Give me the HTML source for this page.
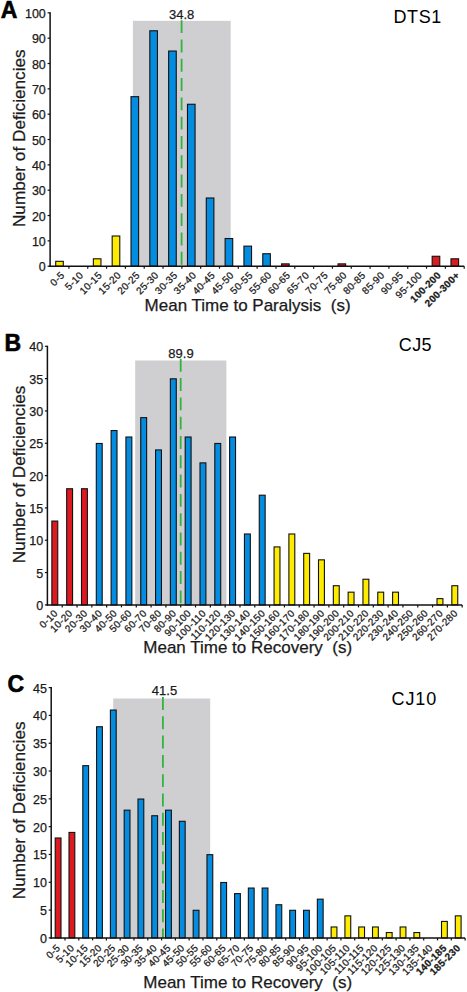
<!DOCTYPE html>
<html><head><meta charset="utf-8"><title>Histograms</title>
<style>
html,body{margin:0;padding:0;background:#fff;}
body{width:467px;height:992px;overflow:hidden;}
svg{display:block;}
text{font-family:"Liberation Sans", sans-serif;fill:#1a1a1a;stroke:#1a1a1a;stroke-width:0.25px;}
.yl{font-size:12.5px;text-anchor:end;}
.xl{font-size:10px;letter-spacing:0.25px;text-anchor:end;}
.xl.b{font-weight:bold;}
.mean{font-size:13px;text-anchor:middle;}
.ttl{font-size:18px;fill:#000;stroke:none;}
.let{font-size:23px;font-weight:bold;fill:#000;stroke:#000;stroke-width:0.6px;}
.yt{font-size:17.2px;text-anchor:middle;}
.xt{font-size:17px;}
</style></head>
<body><svg width="467" height="992" viewBox="0 0 467 992">
<rect width="467" height="992" fill="#fff"/>
<rect x="132.9" y="20.8" width="97.8" height="245.4" fill="#cfcfd1"/>
<line x1="181.6" y1="20.2" x2="181.6" y2="266.2" stroke="#30b43e" stroke-width="1.8" stroke-dasharray="12.9 6.4"/>
<rect x="55.71" y="261.33" width="7.6" height="4.87" fill="#fdec00" stroke="#111" stroke-width="1.1"/>
<rect x="93.36" y="258.8" width="7.6" height="7.4" fill="#fdec00" stroke="#111" stroke-width="1.1"/>
<rect x="112.18" y="236" width="7.6" height="30.2" fill="#fdec00" stroke="#111" stroke-width="1.1"/>
<rect x="131" y="96.66" width="7.6" height="169.54" fill="#048de0" stroke="#111" stroke-width="1.1"/>
<rect x="149.83" y="30.78" width="7.6" height="235.42" fill="#048de0" stroke="#111" stroke-width="1.1"/>
<rect x="168.65" y="51.05" width="7.6" height="215.15" fill="#048de0" stroke="#111" stroke-width="1.1"/>
<rect x="187.47" y="104.26" width="7.6" height="161.94" fill="#048de0" stroke="#111" stroke-width="1.1"/>
<rect x="206.29" y="198" width="7.6" height="68.2" fill="#048de0" stroke="#111" stroke-width="1.1"/>
<rect x="225.12" y="238.53" width="7.6" height="27.67" fill="#048de0" stroke="#111" stroke-width="1.1"/>
<rect x="243.94" y="246.13" width="7.6" height="20.07" fill="#048de0" stroke="#111" stroke-width="1.1"/>
<rect x="262.76" y="253.73" width="7.6" height="12.47" fill="#048de0" stroke="#111" stroke-width="1.1"/>
<rect x="281.58" y="263.87" width="7.6" height="2.33" fill="#dc1a22" stroke="#111" stroke-width="1.1"/>
<rect x="338.05" y="263.87" width="7.6" height="2.33" fill="#dc1a22" stroke="#111" stroke-width="1.1"/>
<rect x="432.17" y="256.27" width="7.6" height="9.93" fill="#dc1a22" stroke="#111" stroke-width="1.1"/>
<rect x="450.99" y="258.8" width="7.6" height="7.4" fill="#dc1a22" stroke="#111" stroke-width="1.1"/>
<line x1="50.1" y1="12.35" x2="50.1" y2="266.95" stroke="#111" stroke-width="1.5"/>
<line x1="49.35" y1="266.2" x2="464.2" y2="266.2" stroke="#111" stroke-width="1.5"/>
<line x1="47.6" y1="266.2" x2="50.1" y2="266.2" stroke="#111" stroke-width="1.2"/>
<text x="45.8" y="271.2" class="yl">0</text>
<line x1="47.6" y1="240.86" x2="50.1" y2="240.86" stroke="#111" stroke-width="1.2"/>
<text x="45.8" y="245.86" class="yl">10</text>
<line x1="47.6" y1="215.53" x2="50.1" y2="215.53" stroke="#111" stroke-width="1.2"/>
<text x="45.8" y="220.53" class="yl">20</text>
<line x1="47.6" y1="190.19" x2="50.1" y2="190.19" stroke="#111" stroke-width="1.2"/>
<text x="45.8" y="195.19" class="yl">30</text>
<line x1="47.6" y1="164.86" x2="50.1" y2="164.86" stroke="#111" stroke-width="1.2"/>
<text x="45.8" y="169.86" class="yl">40</text>
<line x1="47.6" y1="139.52" x2="50.1" y2="139.52" stroke="#111" stroke-width="1.2"/>
<text x="45.8" y="144.52" class="yl">50</text>
<line x1="47.6" y1="114.19" x2="50.1" y2="114.19" stroke="#111" stroke-width="1.2"/>
<text x="45.8" y="119.19" class="yl">60</text>
<line x1="47.6" y1="88.85" x2="50.1" y2="88.85" stroke="#111" stroke-width="1.2"/>
<text x="45.8" y="93.85" class="yl">70</text>
<line x1="47.6" y1="63.52" x2="50.1" y2="63.52" stroke="#111" stroke-width="1.2"/>
<text x="45.8" y="68.52" class="yl">80</text>
<line x1="47.6" y1="38.18" x2="50.1" y2="38.18" stroke="#111" stroke-width="1.2"/>
<text x="45.8" y="43.18" class="yl">90</text>
<line x1="47.6" y1="12.85" x2="50.1" y2="12.85" stroke="#111" stroke-width="1.2"/>
<text x="45.8" y="17.85" class="yl">100</text>
<line x1="68.92" y1="266.2" x2="68.92" y2="268.7" stroke="#111" stroke-width="1.2"/>
<line x1="87.75" y1="266.2" x2="87.75" y2="268.7" stroke="#111" stroke-width="1.2"/>
<line x1="106.57" y1="266.2" x2="106.57" y2="268.7" stroke="#111" stroke-width="1.2"/>
<line x1="125.39" y1="266.2" x2="125.39" y2="268.7" stroke="#111" stroke-width="1.2"/>
<line x1="144.21" y1="266.2" x2="144.21" y2="268.7" stroke="#111" stroke-width="1.2"/>
<line x1="163.04" y1="266.2" x2="163.04" y2="268.7" stroke="#111" stroke-width="1.2"/>
<line x1="181.86" y1="266.2" x2="181.86" y2="268.7" stroke="#111" stroke-width="1.2"/>
<line x1="200.68" y1="266.2" x2="200.68" y2="268.7" stroke="#111" stroke-width="1.2"/>
<line x1="219.5" y1="266.2" x2="219.5" y2="268.7" stroke="#111" stroke-width="1.2"/>
<line x1="238.33" y1="266.2" x2="238.33" y2="268.7" stroke="#111" stroke-width="1.2"/>
<line x1="257.15" y1="266.2" x2="257.15" y2="268.7" stroke="#111" stroke-width="1.2"/>
<line x1="275.97" y1="266.2" x2="275.97" y2="268.7" stroke="#111" stroke-width="1.2"/>
<line x1="294.8" y1="266.2" x2="294.8" y2="268.7" stroke="#111" stroke-width="1.2"/>
<line x1="313.62" y1="266.2" x2="313.62" y2="268.7" stroke="#111" stroke-width="1.2"/>
<line x1="332.44" y1="266.2" x2="332.44" y2="268.7" stroke="#111" stroke-width="1.2"/>
<line x1="351.26" y1="266.2" x2="351.26" y2="268.7" stroke="#111" stroke-width="1.2"/>
<line x1="370.09" y1="266.2" x2="370.09" y2="268.7" stroke="#111" stroke-width="1.2"/>
<line x1="388.91" y1="266.2" x2="388.91" y2="268.7" stroke="#111" stroke-width="1.2"/>
<line x1="407.73" y1="266.2" x2="407.73" y2="268.7" stroke="#111" stroke-width="1.2"/>
<line x1="426.55" y1="266.2" x2="426.55" y2="268.7" stroke="#111" stroke-width="1.2"/>
<line x1="445.38" y1="266.2" x2="445.38" y2="268.7" stroke="#111" stroke-width="1.2"/>
<line x1="464.2" y1="266.2" x2="464.2" y2="268.7" stroke="#111" stroke-width="1.2"/>
<text transform="translate(62.51,273.4) rotate(-45)" class="xl" dy="0.36em">0-5</text>
<text transform="translate(81.33,273.4) rotate(-45)" class="xl" dy="0.36em">5-10</text>
<text transform="translate(100.16,273.4) rotate(-45)" class="xl" dy="0.36em">10-15</text>
<text transform="translate(118.98,273.4) rotate(-45)" class="xl" dy="0.36em">15-20</text>
<text transform="translate(137.8,273.4) rotate(-45)" class="xl" dy="0.36em">20-25</text>
<text transform="translate(156.62,273.4) rotate(-45)" class="xl" dy="0.36em">25-30</text>
<text transform="translate(175.45,273.4) rotate(-45)" class="xl" dy="0.36em">30-35</text>
<text transform="translate(194.27,273.4) rotate(-45)" class="xl" dy="0.36em">35-40</text>
<text transform="translate(213.09,273.4) rotate(-45)" class="xl" dy="0.36em">40-45</text>
<text transform="translate(231.92,273.4) rotate(-45)" class="xl" dy="0.36em">45-50</text>
<text transform="translate(250.74,273.4) rotate(-45)" class="xl" dy="0.36em">50-55</text>
<text transform="translate(269.56,273.4) rotate(-45)" class="xl" dy="0.36em">55-60</text>
<text transform="translate(288.38,273.4) rotate(-45)" class="xl" dy="0.36em">60-65</text>
<text transform="translate(307.21,273.4) rotate(-45)" class="xl" dy="0.36em">65-70</text>
<text transform="translate(326.03,273.4) rotate(-45)" class="xl" dy="0.36em">70-75</text>
<text transform="translate(344.85,273.4) rotate(-45)" class="xl" dy="0.36em">75-80</text>
<text transform="translate(363.68,273.4) rotate(-45)" class="xl" dy="0.36em">80-85</text>
<text transform="translate(382.5,273.4) rotate(-45)" class="xl" dy="0.36em">85-90</text>
<text transform="translate(401.32,273.4) rotate(-45)" class="xl" dy="0.36em">90-95</text>
<text transform="translate(420.14,273.4) rotate(-45)" class="xl" dy="0.36em">95-100</text>
<text transform="translate(438.97,273.4) rotate(-45)" class="xl b" dy="0.36em">100-200</text>
<text transform="translate(457.79,273.4) rotate(-45)" class="xl b" dy="0.36em">200-300+</text>
<text x="181.6" y="19.2" class="mean">34.8</text>
<text x="393.5" y="23.1" class="ttl" letter-spacing="0.6">DTS1</text>
<text x="0.7" y="17.7" class="let">A</text>
<text transform="translate(25,138.2) rotate(-90)" class="yt">Number of Deficiencies</text>
<text x="144.6" y="311.1" class="xt">Mean Time to Paralysis  (s)</text>
<rect x="135.2" y="360.5" width="91.2" height="244.4" fill="#cfcfd1"/>
<line x1="180.7" y1="358.8" x2="180.7" y2="604.9" stroke="#30b43e" stroke-width="1.8" stroke-dasharray="12.9 6.4"/>
<rect x="51.86" y="521.06" width="5.9" height="83.84" fill="#dc1a22" stroke="#111" stroke-width="1.1"/>
<rect x="66.67" y="488.73" width="5.9" height="116.17" fill="#dc1a22" stroke="#111" stroke-width="1.1"/>
<rect x="81.49" y="488.73" width="5.9" height="116.17" fill="#dc1a22" stroke="#111" stroke-width="1.1"/>
<rect x="96.3" y="443.47" width="5.9" height="161.42" fill="#048de0" stroke="#111" stroke-width="1.1"/>
<rect x="111.11" y="430.55" width="5.9" height="174.35" fill="#048de0" stroke="#111" stroke-width="1.1"/>
<rect x="125.93" y="437.01" width="5.9" height="167.89" fill="#048de0" stroke="#111" stroke-width="1.1"/>
<rect x="140.74" y="417.62" width="5.9" height="187.28" fill="#048de0" stroke="#111" stroke-width="1.1"/>
<rect x="155.56" y="449.94" width="5.9" height="154.96" fill="#048de0" stroke="#111" stroke-width="1.1"/>
<rect x="170.37" y="378.82" width="5.9" height="226.07" fill="#048de0" stroke="#111" stroke-width="1.1"/>
<rect x="185.19" y="437.01" width="5.9" height="167.89" fill="#048de0" stroke="#111" stroke-width="1.1"/>
<rect x="200" y="462.87" width="5.9" height="142.03" fill="#048de0" stroke="#111" stroke-width="1.1"/>
<rect x="214.81" y="443.47" width="5.9" height="161.42" fill="#048de0" stroke="#111" stroke-width="1.1"/>
<rect x="229.63" y="437.01" width="5.9" height="167.89" fill="#048de0" stroke="#111" stroke-width="1.1"/>
<rect x="244.44" y="533.99" width="5.9" height="70.91" fill="#048de0" stroke="#111" stroke-width="1.1"/>
<rect x="259.26" y="495.19" width="5.9" height="109.7" fill="#048de0" stroke="#111" stroke-width="1.1"/>
<rect x="274.07" y="546.92" width="5.9" height="57.98" fill="#fdec00" stroke="#111" stroke-width="1.1"/>
<rect x="288.89" y="533.99" width="5.9" height="70.91" fill="#fdec00" stroke="#111" stroke-width="1.1"/>
<rect x="303.7" y="553.38" width="5.9" height="51.52" fill="#fdec00" stroke="#111" stroke-width="1.1"/>
<rect x="318.51" y="559.85" width="5.9" height="45.05" fill="#fdec00" stroke="#111" stroke-width="1.1"/>
<rect x="333.33" y="585.71" width="5.9" height="19.19" fill="#fdec00" stroke="#111" stroke-width="1.1"/>
<rect x="348.14" y="592.17" width="5.9" height="12.73" fill="#fdec00" stroke="#111" stroke-width="1.1"/>
<rect x="362.96" y="579.24" width="5.9" height="25.66" fill="#fdec00" stroke="#111" stroke-width="1.1"/>
<rect x="377.77" y="592.17" width="5.9" height="12.73" fill="#fdec00" stroke="#111" stroke-width="1.1"/>
<rect x="392.59" y="592.17" width="5.9" height="12.73" fill="#fdec00" stroke="#111" stroke-width="1.1"/>
<rect x="437.03" y="598.63" width="5.9" height="6.26" fill="#fdec00" stroke="#111" stroke-width="1.1"/>
<rect x="451.84" y="585.71" width="5.9" height="19.19" fill="#fdec00" stroke="#111" stroke-width="1.1"/>
<line x1="47.4" y1="345.8" x2="47.4" y2="605.65" stroke="#111" stroke-width="1.5"/>
<line x1="46.65" y1="604.9" x2="462.2" y2="604.9" stroke="#111" stroke-width="1.5"/>
<line x1="44.9" y1="604.9" x2="47.4" y2="604.9" stroke="#111" stroke-width="1.2"/>
<text x="43.1" y="609.9" class="yl">0</text>
<line x1="44.9" y1="572.57" x2="47.4" y2="572.57" stroke="#111" stroke-width="1.2"/>
<text x="43.1" y="577.57" class="yl">5</text>
<line x1="44.9" y1="540.25" x2="47.4" y2="540.25" stroke="#111" stroke-width="1.2"/>
<text x="43.1" y="545.25" class="yl">10</text>
<line x1="44.9" y1="507.93" x2="47.4" y2="507.93" stroke="#111" stroke-width="1.2"/>
<text x="43.1" y="512.92" class="yl">15</text>
<line x1="44.9" y1="475.6" x2="47.4" y2="475.6" stroke="#111" stroke-width="1.2"/>
<text x="43.1" y="480.6" class="yl">20</text>
<line x1="44.9" y1="443.27" x2="47.4" y2="443.27" stroke="#111" stroke-width="1.2"/>
<text x="43.1" y="448.27" class="yl">25</text>
<line x1="44.9" y1="410.95" x2="47.4" y2="410.95" stroke="#111" stroke-width="1.2"/>
<text x="43.1" y="415.95" class="yl">30</text>
<line x1="44.9" y1="378.62" x2="47.4" y2="378.62" stroke="#111" stroke-width="1.2"/>
<text x="43.1" y="383.62" class="yl">35</text>
<line x1="44.9" y1="346.3" x2="47.4" y2="346.3" stroke="#111" stroke-width="1.2"/>
<text x="43.1" y="351.3" class="yl">40</text>
<line x1="62.21" y1="604.9" x2="62.21" y2="607.4" stroke="#111" stroke-width="1.2"/>
<line x1="77.03" y1="604.9" x2="77.03" y2="607.4" stroke="#111" stroke-width="1.2"/>
<line x1="91.84" y1="604.9" x2="91.84" y2="607.4" stroke="#111" stroke-width="1.2"/>
<line x1="106.66" y1="604.9" x2="106.66" y2="607.4" stroke="#111" stroke-width="1.2"/>
<line x1="121.47" y1="604.9" x2="121.47" y2="607.4" stroke="#111" stroke-width="1.2"/>
<line x1="136.29" y1="604.9" x2="136.29" y2="607.4" stroke="#111" stroke-width="1.2"/>
<line x1="151.1" y1="604.9" x2="151.1" y2="607.4" stroke="#111" stroke-width="1.2"/>
<line x1="165.91" y1="604.9" x2="165.91" y2="607.4" stroke="#111" stroke-width="1.2"/>
<line x1="180.73" y1="604.9" x2="180.73" y2="607.4" stroke="#111" stroke-width="1.2"/>
<line x1="195.54" y1="604.9" x2="195.54" y2="607.4" stroke="#111" stroke-width="1.2"/>
<line x1="210.36" y1="604.9" x2="210.36" y2="607.4" stroke="#111" stroke-width="1.2"/>
<line x1="225.17" y1="604.9" x2="225.17" y2="607.4" stroke="#111" stroke-width="1.2"/>
<line x1="239.99" y1="604.9" x2="239.99" y2="607.4" stroke="#111" stroke-width="1.2"/>
<line x1="254.8" y1="604.9" x2="254.8" y2="607.4" stroke="#111" stroke-width="1.2"/>
<line x1="269.61" y1="604.9" x2="269.61" y2="607.4" stroke="#111" stroke-width="1.2"/>
<line x1="284.43" y1="604.9" x2="284.43" y2="607.4" stroke="#111" stroke-width="1.2"/>
<line x1="299.24" y1="604.9" x2="299.24" y2="607.4" stroke="#111" stroke-width="1.2"/>
<line x1="314.06" y1="604.9" x2="314.06" y2="607.4" stroke="#111" stroke-width="1.2"/>
<line x1="328.87" y1="604.9" x2="328.87" y2="607.4" stroke="#111" stroke-width="1.2"/>
<line x1="343.69" y1="604.9" x2="343.69" y2="607.4" stroke="#111" stroke-width="1.2"/>
<line x1="358.5" y1="604.9" x2="358.5" y2="607.4" stroke="#111" stroke-width="1.2"/>
<line x1="373.31" y1="604.9" x2="373.31" y2="607.4" stroke="#111" stroke-width="1.2"/>
<line x1="388.13" y1="604.9" x2="388.13" y2="607.4" stroke="#111" stroke-width="1.2"/>
<line x1="402.94" y1="604.9" x2="402.94" y2="607.4" stroke="#111" stroke-width="1.2"/>
<line x1="417.76" y1="604.9" x2="417.76" y2="607.4" stroke="#111" stroke-width="1.2"/>
<line x1="432.57" y1="604.9" x2="432.57" y2="607.4" stroke="#111" stroke-width="1.2"/>
<line x1="447.39" y1="604.9" x2="447.39" y2="607.4" stroke="#111" stroke-width="1.2"/>
<line x1="462.2" y1="604.9" x2="462.2" y2="607.4" stroke="#111" stroke-width="1.2"/>
<text transform="translate(55.81,611.4) rotate(-45)" class="xl" dy="0.36em">0-10</text>
<text transform="translate(70.62,611.4) rotate(-45)" class="xl" dy="0.36em">10-20</text>
<text transform="translate(85.44,611.4) rotate(-45)" class="xl" dy="0.36em">20-30</text>
<text transform="translate(100.25,611.4) rotate(-45)" class="xl" dy="0.36em">30-40</text>
<text transform="translate(115.06,611.4) rotate(-45)" class="xl" dy="0.36em">40-50</text>
<text transform="translate(129.88,611.4) rotate(-45)" class="xl" dy="0.36em">50-60</text>
<text transform="translate(144.69,611.4) rotate(-45)" class="xl" dy="0.36em">60-70</text>
<text transform="translate(159.51,611.4) rotate(-45)" class="xl" dy="0.36em">70-80</text>
<text transform="translate(174.32,611.4) rotate(-45)" class="xl" dy="0.36em">80-90</text>
<text transform="translate(189.14,611.4) rotate(-45)" class="xl" dy="0.36em">90-100</text>
<text transform="translate(203.95,611.4) rotate(-45)" class="xl" dy="0.36em">100-110</text>
<text transform="translate(218.76,611.4) rotate(-45)" class="xl" dy="0.36em">110-120</text>
<text transform="translate(233.58,611.4) rotate(-45)" class="xl" dy="0.36em">120-130</text>
<text transform="translate(248.39,611.4) rotate(-45)" class="xl" dy="0.36em">130-140</text>
<text transform="translate(263.21,611.4) rotate(-45)" class="xl" dy="0.36em">140-150</text>
<text transform="translate(278.02,611.4) rotate(-45)" class="xl" dy="0.36em">150-160</text>
<text transform="translate(292.84,611.4) rotate(-45)" class="xl" dy="0.36em">160-170</text>
<text transform="translate(307.65,611.4) rotate(-45)" class="xl" dy="0.36em">170-180</text>
<text transform="translate(322.46,611.4) rotate(-45)" class="xl" dy="0.36em">180-190</text>
<text transform="translate(337.28,611.4) rotate(-45)" class="xl" dy="0.36em">190-200</text>
<text transform="translate(352.09,611.4) rotate(-45)" class="xl" dy="0.36em">200-210</text>
<text transform="translate(366.91,611.4) rotate(-45)" class="xl" dy="0.36em">210-220</text>
<text transform="translate(381.72,611.4) rotate(-45)" class="xl" dy="0.36em">220-230</text>
<text transform="translate(396.54,611.4) rotate(-45)" class="xl" dy="0.36em">230-240</text>
<text transform="translate(411.35,611.4) rotate(-45)" class="xl" dy="0.36em">240-250</text>
<text transform="translate(426.16,611.4) rotate(-45)" class="xl" dy="0.36em">250-260</text>
<text transform="translate(440.98,611.4) rotate(-45)" class="xl" dy="0.36em">260-270</text>
<text transform="translate(455.79,611.4) rotate(-45)" class="xl" dy="0.36em">270-280</text>
<text x="181" y="358" class="mean">89.9</text>
<text x="398.8" y="351.4" class="ttl" letter-spacing="0.35">CJ5</text>
<text x="4.6" y="350.6" class="let">B</text>
<text transform="translate(25,474.4) rotate(-90)" class="yt">Number of Deficiencies</text>
<text x="143.3" y="653.1" class="xt">Mean Time to Recovery  (s)</text>
<rect x="113.2" y="698.5" width="97" height="239.4" fill="#cfcfd1"/>
<line x1="162.9" y1="697" x2="162.9" y2="937.9" stroke="#30b43e" stroke-width="1.8" stroke-dasharray="12.9 6.4"/>
<rect x="55.2" y="837.98" width="5.8" height="99.92" fill="#dc1a22" stroke="#111" stroke-width="1.1"/>
<rect x="69" y="832.42" width="5.8" height="105.48" fill="#dc1a22" stroke="#111" stroke-width="1.1"/>
<rect x="82.79" y="765.67" width="5.8" height="172.23" fill="#048de0" stroke="#111" stroke-width="1.1"/>
<rect x="96.59" y="726.74" width="5.8" height="211.16" fill="#048de0" stroke="#111" stroke-width="1.1"/>
<rect x="110.39" y="710.05" width="5.8" height="227.85" fill="#048de0" stroke="#111" stroke-width="1.1"/>
<rect x="124.18" y="810.17" width="5.8" height="127.73" fill="#048de0" stroke="#111" stroke-width="1.1"/>
<rect x="137.98" y="799.04" width="5.8" height="138.86" fill="#048de0" stroke="#111" stroke-width="1.1"/>
<rect x="151.78" y="815.73" width="5.8" height="122.17" fill="#048de0" stroke="#111" stroke-width="1.1"/>
<rect x="165.57" y="810.17" width="5.8" height="127.73" fill="#048de0" stroke="#111" stroke-width="1.1"/>
<rect x="179.37" y="821.29" width="5.8" height="116.61" fill="#048de0" stroke="#111" stroke-width="1.1"/>
<rect x="193.17" y="910.29" width="5.8" height="27.61" fill="#048de0" stroke="#111" stroke-width="1.1"/>
<rect x="206.96" y="854.67" width="5.8" height="83.23" fill="#048de0" stroke="#111" stroke-width="1.1"/>
<rect x="220.76" y="882.48" width="5.8" height="55.42" fill="#048de0" stroke="#111" stroke-width="1.1"/>
<rect x="234.56" y="893.6" width="5.8" height="44.3" fill="#048de0" stroke="#111" stroke-width="1.1"/>
<rect x="248.35" y="888.04" width="5.8" height="49.86" fill="#048de0" stroke="#111" stroke-width="1.1"/>
<rect x="262.15" y="888.04" width="5.8" height="49.86" fill="#048de0" stroke="#111" stroke-width="1.1"/>
<rect x="275.95" y="904.73" width="5.8" height="33.17" fill="#048de0" stroke="#111" stroke-width="1.1"/>
<rect x="289.74" y="910.29" width="5.8" height="27.61" fill="#048de0" stroke="#111" stroke-width="1.1"/>
<rect x="303.54" y="910.29" width="5.8" height="27.61" fill="#048de0" stroke="#111" stroke-width="1.1"/>
<rect x="317.34" y="899.16" width="5.8" height="38.74" fill="#048de0" stroke="#111" stroke-width="1.1"/>
<rect x="331.13" y="926.98" width="5.8" height="10.92" fill="#fdec00" stroke="#111" stroke-width="1.1"/>
<rect x="344.93" y="915.85" width="5.8" height="22.05" fill="#fdec00" stroke="#111" stroke-width="1.1"/>
<rect x="358.73" y="926.98" width="5.8" height="10.92" fill="#fdec00" stroke="#111" stroke-width="1.1"/>
<rect x="372.52" y="926.98" width="5.8" height="10.92" fill="#fdec00" stroke="#111" stroke-width="1.1"/>
<rect x="386.32" y="932.54" width="5.8" height="5.36" fill="#fdec00" stroke="#111" stroke-width="1.1"/>
<rect x="400.12" y="926.98" width="5.8" height="10.92" fill="#fdec00" stroke="#111" stroke-width="1.1"/>
<rect x="413.91" y="932.54" width="5.8" height="5.36" fill="#fdec00" stroke="#111" stroke-width="1.1"/>
<rect x="441.51" y="921.41" width="5.8" height="16.49" fill="#fdec00" stroke="#111" stroke-width="1.1"/>
<rect x="455.3" y="915.85" width="5.8" height="22.05" fill="#fdec00" stroke="#111" stroke-width="1.1"/>
<line x1="51.2" y1="687.1" x2="51.2" y2="938.65" stroke="#111" stroke-width="1.5"/>
<line x1="50.45" y1="937.9" x2="465.1" y2="937.9" stroke="#111" stroke-width="1.5"/>
<line x1="48.7" y1="937.9" x2="51.2" y2="937.9" stroke="#111" stroke-width="1.2"/>
<text x="46.9" y="942.9" class="yl">0</text>
<line x1="48.7" y1="910.09" x2="51.2" y2="910.09" stroke="#111" stroke-width="1.2"/>
<text x="46.9" y="915.09" class="yl">5</text>
<line x1="48.7" y1="882.28" x2="51.2" y2="882.28" stroke="#111" stroke-width="1.2"/>
<text x="46.9" y="887.28" class="yl">10</text>
<line x1="48.7" y1="854.47" x2="51.2" y2="854.47" stroke="#111" stroke-width="1.2"/>
<text x="46.9" y="859.47" class="yl">15</text>
<line x1="48.7" y1="826.66" x2="51.2" y2="826.66" stroke="#111" stroke-width="1.2"/>
<text x="46.9" y="831.66" class="yl">20</text>
<line x1="48.7" y1="798.84" x2="51.2" y2="798.84" stroke="#111" stroke-width="1.2"/>
<text x="46.9" y="803.84" class="yl">25</text>
<line x1="48.7" y1="771.03" x2="51.2" y2="771.03" stroke="#111" stroke-width="1.2"/>
<text x="46.9" y="776.03" class="yl">30</text>
<line x1="48.7" y1="743.22" x2="51.2" y2="743.22" stroke="#111" stroke-width="1.2"/>
<text x="46.9" y="748.22" class="yl">35</text>
<line x1="48.7" y1="715.41" x2="51.2" y2="715.41" stroke="#111" stroke-width="1.2"/>
<text x="46.9" y="720.41" class="yl">40</text>
<line x1="48.7" y1="687.6" x2="51.2" y2="687.6" stroke="#111" stroke-width="1.2"/>
<text x="46.9" y="692.6" class="yl">45</text>
<line x1="65" y1="937.9" x2="65" y2="940.4" stroke="#111" stroke-width="1.2"/>
<line x1="78.79" y1="937.9" x2="78.79" y2="940.4" stroke="#111" stroke-width="1.2"/>
<line x1="92.59" y1="937.9" x2="92.59" y2="940.4" stroke="#111" stroke-width="1.2"/>
<line x1="106.39" y1="937.9" x2="106.39" y2="940.4" stroke="#111" stroke-width="1.2"/>
<line x1="120.18" y1="937.9" x2="120.18" y2="940.4" stroke="#111" stroke-width="1.2"/>
<line x1="133.98" y1="937.9" x2="133.98" y2="940.4" stroke="#111" stroke-width="1.2"/>
<line x1="147.78" y1="937.9" x2="147.78" y2="940.4" stroke="#111" stroke-width="1.2"/>
<line x1="161.57" y1="937.9" x2="161.57" y2="940.4" stroke="#111" stroke-width="1.2"/>
<line x1="175.37" y1="937.9" x2="175.37" y2="940.4" stroke="#111" stroke-width="1.2"/>
<line x1="189.17" y1="937.9" x2="189.17" y2="940.4" stroke="#111" stroke-width="1.2"/>
<line x1="202.96" y1="937.9" x2="202.96" y2="940.4" stroke="#111" stroke-width="1.2"/>
<line x1="216.76" y1="937.9" x2="216.76" y2="940.4" stroke="#111" stroke-width="1.2"/>
<line x1="230.56" y1="937.9" x2="230.56" y2="940.4" stroke="#111" stroke-width="1.2"/>
<line x1="244.35" y1="937.9" x2="244.35" y2="940.4" stroke="#111" stroke-width="1.2"/>
<line x1="258.15" y1="937.9" x2="258.15" y2="940.4" stroke="#111" stroke-width="1.2"/>
<line x1="271.95" y1="937.9" x2="271.95" y2="940.4" stroke="#111" stroke-width="1.2"/>
<line x1="285.74" y1="937.9" x2="285.74" y2="940.4" stroke="#111" stroke-width="1.2"/>
<line x1="299.54" y1="937.9" x2="299.54" y2="940.4" stroke="#111" stroke-width="1.2"/>
<line x1="313.34" y1="937.9" x2="313.34" y2="940.4" stroke="#111" stroke-width="1.2"/>
<line x1="327.13" y1="937.9" x2="327.13" y2="940.4" stroke="#111" stroke-width="1.2"/>
<line x1="340.93" y1="937.9" x2="340.93" y2="940.4" stroke="#111" stroke-width="1.2"/>
<line x1="354.73" y1="937.9" x2="354.73" y2="940.4" stroke="#111" stroke-width="1.2"/>
<line x1="368.52" y1="937.9" x2="368.52" y2="940.4" stroke="#111" stroke-width="1.2"/>
<line x1="382.32" y1="937.9" x2="382.32" y2="940.4" stroke="#111" stroke-width="1.2"/>
<line x1="396.12" y1="937.9" x2="396.12" y2="940.4" stroke="#111" stroke-width="1.2"/>
<line x1="409.91" y1="937.9" x2="409.91" y2="940.4" stroke="#111" stroke-width="1.2"/>
<line x1="423.71" y1="937.9" x2="423.71" y2="940.4" stroke="#111" stroke-width="1.2"/>
<line x1="437.51" y1="937.9" x2="437.51" y2="940.4" stroke="#111" stroke-width="1.2"/>
<line x1="451.3" y1="937.9" x2="451.3" y2="940.4" stroke="#111" stroke-width="1.2"/>
<line x1="465.1" y1="937.9" x2="465.1" y2="940.4" stroke="#111" stroke-width="1.2"/>
<text transform="translate(58.4,946) rotate(-45)" class="xl" dy="0.36em">0-5</text>
<text transform="translate(72.2,946) rotate(-45)" class="xl" dy="0.36em">5-10</text>
<text transform="translate(85.99,946) rotate(-45)" class="xl" dy="0.36em">10-15</text>
<text transform="translate(99.79,946) rotate(-45)" class="xl" dy="0.36em">15-20</text>
<text transform="translate(113.59,946) rotate(-45)" class="xl" dy="0.36em">20-25</text>
<text transform="translate(127.38,946) rotate(-45)" class="xl" dy="0.36em">25-30</text>
<text transform="translate(141.18,946) rotate(-45)" class="xl" dy="0.36em">30-35</text>
<text transform="translate(154.98,946) rotate(-45)" class="xl" dy="0.36em">35-40</text>
<text transform="translate(168.77,946) rotate(-45)" class="xl" dy="0.36em">40-45</text>
<text transform="translate(182.57,946) rotate(-45)" class="xl" dy="0.36em">45-50</text>
<text transform="translate(196.37,946) rotate(-45)" class="xl" dy="0.36em">50-55</text>
<text transform="translate(210.16,946) rotate(-45)" class="xl" dy="0.36em">55-60</text>
<text transform="translate(223.96,946) rotate(-45)" class="xl" dy="0.36em">60-65</text>
<text transform="translate(237.76,946) rotate(-45)" class="xl" dy="0.36em">65-70</text>
<text transform="translate(251.55,946) rotate(-45)" class="xl" dy="0.36em">70-75</text>
<text transform="translate(265.35,946) rotate(-45)" class="xl" dy="0.36em">75-80</text>
<text transform="translate(279.15,946) rotate(-45)" class="xl" dy="0.36em">80-85</text>
<text transform="translate(292.94,946) rotate(-45)" class="xl" dy="0.36em">85-90</text>
<text transform="translate(306.74,946) rotate(-45)" class="xl" dy="0.36em">90-95</text>
<text transform="translate(320.54,946) rotate(-45)" class="xl" dy="0.36em">95-100</text>
<text transform="translate(334.33,946) rotate(-45)" class="xl" dy="0.36em">100-105</text>
<text transform="translate(348.13,946) rotate(-45)" class="xl" dy="0.36em">105-110</text>
<text transform="translate(361.93,946) rotate(-45)" class="xl" dy="0.36em">110-115</text>
<text transform="translate(375.72,946) rotate(-45)" class="xl" dy="0.36em">115-120</text>
<text transform="translate(389.52,946) rotate(-45)" class="xl" dy="0.36em">120-125</text>
<text transform="translate(403.32,946) rotate(-45)" class="xl" dy="0.36em">125-130</text>
<text transform="translate(417.11,946) rotate(-45)" class="xl" dy="0.36em">130-135</text>
<text transform="translate(430.91,946) rotate(-45)" class="xl" dy="0.36em">135-140</text>
<text transform="translate(444.71,946) rotate(-45)" class="xl b" dy="0.36em">140-185</text>
<text transform="translate(458.5,946) rotate(-45)" class="xl b" dy="0.36em">185-230</text>
<text x="164.5" y="695" class="mean">41.5</text>
<text x="391.5" y="705.3" class="ttl" letter-spacing="0.9">CJ10</text>
<text x="7.6" y="691.8" class="let">C</text>
<text transform="translate(25,810.3) rotate(-90)" class="yt">Number of Deficiencies</text>
<text x="143.3" y="987.5" class="xt">Mean Time to Recovery  (s)</text>
</svg></body></html>
